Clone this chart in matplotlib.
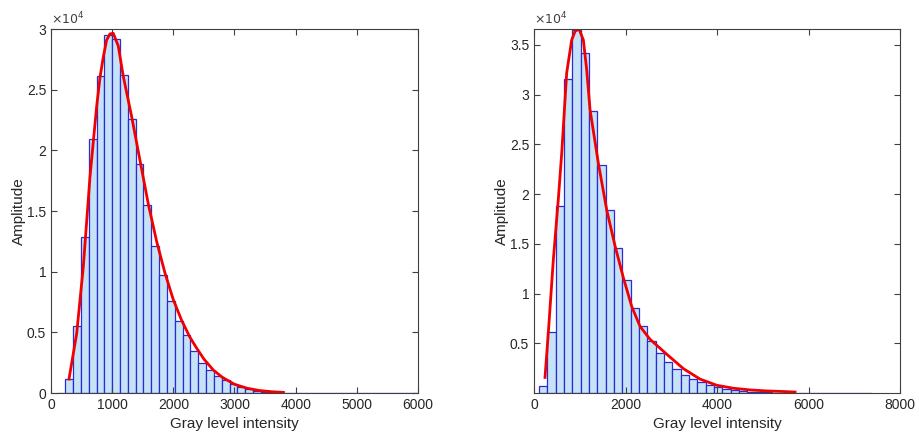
import numpy as np
import matplotlib.pyplot as plt
from matplotlib.ticker import FixedLocator

plt.rcParams['font.family'] = ['Liberation Sans', 'DejaVu Sans']

# Histograma da esquerda (contagens em unidades de 10^4)
esq_inicio = 104
esq_largura = 128
esq_alturas = [0.004, 0.115, 0.55, 1.29, 2.09, 2.61, 2.95, 2.915, 2.62, 2.26,
               1.89, 1.55, 1.215, 0.97, 0.755, 0.595, 0.475, 0.35, 0.25, 0.187,
               0.14, 0.104, 0.077, 0.05, 0.03, 0.019, 0.011, 0.006, 0.004, 0.003,
               0.002, 0.0015, 0.001, 0.001, 0.0007, 0.0005, 0.0004, 0.0003, 0.0002, 0.0002,
               0.0001, 0.0001, 0.0001, 0.0001, 0.0001, 0.0001]
# Curva ajustada da esquerda
esq_curva_x = [294, 420, 528, 637, 746, 801, 855, 910, 964, 1018, 1100, 1182, 1318,
               1454, 1590, 1727, 1863, 1999, 2135, 2271, 2381, 2500, 2652, 2800,
               3000, 3200, 3400, 3600, 3800]
esq_curva_y = [0.115, 0.49, 1.04, 1.78, 2.36, 2.6, 2.77, 2.91, 2.96, 2.965, 2.86, 2.61, 2.28,
               1.92, 1.56, 1.25, 0.99, 0.77, 0.60, 0.46, 0.37, 0.28, 0.19, 0.13,
               0.072, 0.04, 0.021, 0.011, 0.005]

# Histograma da direita
dir_inicio = 109
dir_largura = 182
dir_alturas = [0.073, 0.61, 1.88, 3.16, 3.65, 3.42, 2.84, 2.29, 1.84, 1.46,
               1.14, 0.85, 0.67, 0.52, 0.405, 0.315, 0.24, 0.18, 0.14, 0.11,
               0.084, 0.06, 0.043, 0.03, 0.02, 0.014, 0.01, 0.007, 0.005, 0.003,
               0.002, 0.0015, 0.001, 0.0007, 0.0005, 0.0003, 0.0002, 0.0001, 0.0001, 0.0001]
dir_curva_x = [240, 313, 422, 531, 605, 714, 823, 900, 984, 1078, 1151, 1224, 1406,
               1589, 1770, 1952, 2135, 2317, 2535, 2900, 3264, 3628, 3993, 4357,
               4721, 5086, 5450, 5705]
dir_curva_y = [0.157, 0.61, 1.34, 1.95, 2.41, 3.22, 3.55, 3.64, 3.66, 3.55, 3.25, 2.85, 2.31,
               1.84, 1.48, 1.16, 0.87, 0.67, 0.54, 0.39, 0.245, 0.14, 0.078, 0.048,
               0.031, 0.021, 0.015, 0.01]

cor_eixo = '#404040'
cor_texto = '#262626'


def desenhar(ax, inicio, largura, alturas, cx, cy, xmax, ymax, yticks, xticks):
    centros = inicio + largura * (np.arange(len(alturas)) + 0.5)
    ax.bar(centros, alturas, width=largura, color='#c6e2f7',
           edgecolor='#2b2bd6', linewidth=0.9)
    ax.plot(cx, cy, color='#f00000', linewidth=2)
    ax.set_xlim(0, xmax)
    ax.set_ylim(0, ymax)
    ax.xaxis.set_major_locator(FixedLocator(xticks))
    ax.yaxis.set_major_locator(FixedLocator(yticks))
    ax.set_yticklabels([f'{v:g}' for v in yticks])
    ax.tick_params(direction='in', top=True, right=True, length=4,
                   colors=cor_eixo, labelcolor=cor_texto, labelsize=10)
    for s in ax.spines.values():
        s.set_color(cor_eixo)
        s.set_linewidth(0.8)
    ax.set_xlabel('Gray level intensity', fontsize=11, color=cor_texto)
    ax.set_ylabel('Amplitude', fontsize=11, color=cor_texto, labelpad=0.5)
    ax.text(0.0, 1.005, r'$\times10^4$', transform=ax.transAxes, fontsize=9,
            color='#404040', va='bottom', ha='left')


fig = plt.figure(figsize=(9.19, 4.46), dpi=100)
ax1 = fig.add_axes([0.0555, 0.1188, 0.3993, 0.8161])
ax2 = fig.add_axes([0.5811, 0.1188, 0.3983, 0.8161])

desenhar(ax1, esq_inicio, esq_largura, esq_alturas, esq_curva_x, esq_curva_y,
         6000, 3.0, [0, 0.5, 1, 1.5, 2, 2.5, 3], [0, 1000, 2000, 3000, 4000, 5000, 6000])
desenhar(ax2, dir_inicio, dir_largura, dir_alturas, dir_curva_x, dir_curva_y,
         8000, 3.66, [0.5, 1, 1.5, 2, 2.5, 3, 3.5], [0, 2000, 4000, 6000, 8000])

fig.savefig('out.png', dpi=100)
